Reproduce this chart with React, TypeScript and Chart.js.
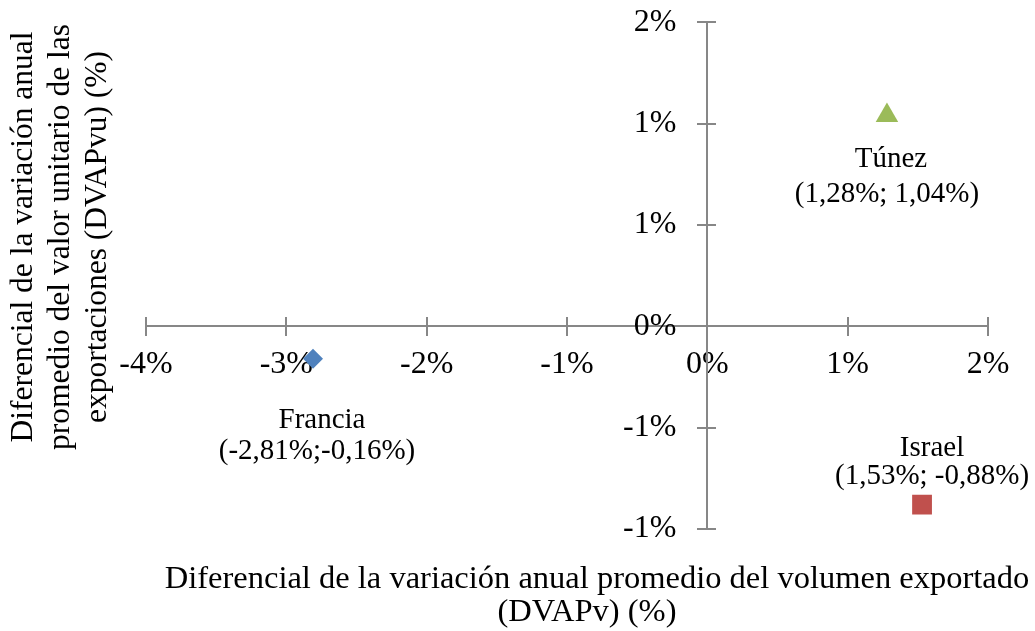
import React, { useEffect, useRef } from 'react';
import { Chart, registerables } from 'chart.js';

Chart.register(...registerables);

// ---- Data ----
const countries = ['Francia', 'Israel', 'Túnez'];
const dvapv = [-2.81, 1.53, 1.28]; // x: volumen exportado (%)
const dvapvu = [-0.16, -0.88, 1.04]; // y: valor unitario (%)
const pointLabels = ['(-2,81%;-0,16%)', '(1,53%; -0,88%)', '(1,28%; 1,04%)'];
const xTickLabels = ['-4%', '-3%', '-2%', '-1%', '0%', '1%', '2%'];
const yTickLabels = ['-1%', '-1%', '0%', '1%', '1%', '2%'];
const xTitleLines = [
  'Diferencial de la variación anual promedio del volumen exportado',
  '(DVAPv) (%)',
];
const yTitleLines = [
  'Diferencial de la variación anual',
  'promedio del valor unitario de las',
  'exportaciones (DVAPvu) (%)',
];

// ---- Styles ----
const FONT = "'Liberation Serif', 'Times New Roman', serif";
const AXIS = '#878787';
const colors = ['#4F81BD', '#C0504D', '#9BBB59'];
const pointStyles = ['rectRot', 'rect', 'triangle'];
const pointRadii = [10, 14, 13];
// [nameDx, nameDy, valueDx, valueDy] relative to the point (alphabetic baseline)
const labelOffsets = [
  [9, 69, 4, 100],
  [10, -49, 10, -21],
  [4, 52, 0, 87],
];

const crossTicks = {
  id: 'crossTicks',
  beforeDatasetsDraw(chart: any) {
    const { ctx } = chart;
    const x = chart.scales.x;
    const y = chart.scales.y;
    const x0 = Math.round(x.getPixelForValue(0));
    const y0 = Math.round(y.getPixelForValue(0));
    ctx.save();
    ctx.strokeStyle = AXIS;
    ctx.lineWidth = 2;
    ctx.beginPath();
    x.ticks.forEach((t: any) => {
      const px = Math.round(x.getPixelForValue(t.value));
      ctx.moveTo(px, y0 - 9);
      ctx.lineTo(px, y0);
    });
    y.ticks.forEach((t: any) => {
      const py = Math.round(y.getPixelForValue(t.value));
      ctx.moveTo(x0, py);
      ctx.lineTo(x0 + 9, py);
    });
    ctx.stroke();
    ctx.restore();
  },
};

const dataLabels = {
  id: 'dataLabels',
  afterDatasetsDraw(chart: any) {
    const { ctx } = chart;
    ctx.save();
    ctx.fillStyle = '#000';
    ctx.font = `29px ${FONT}`;
    ctx.textAlign = 'center';
    ctx.textBaseline = 'alphabetic';
    chart.data.datasets.forEach((_ds: any, i: number) => {
      const el = chart.getDatasetMeta(i).data[0];
      if (!el) return;
      const [ndx, ndy, vdx, vdy] = labelOffsets[i];
      ctx.fillText(countries[i], el.x + ndx, el.y + ndy);
      ctx.fillText(pointLabels[i], el.x + vdx, el.y + vdy);
    });
    ctx.restore();
  },
};

const axisTitles = {
  id: 'axisTitles',
  afterDraw(chart: any) {
    const { ctx } = chart;
    ctx.save();
    ctx.fillStyle = '#000';
    ctx.textAlign = 'center';
    ctx.textBaseline = 'alphabetic';
    ctx.font = `32.5px ${FONT}`;
    const xCenters = [597, 587];
    const xBaselines = [588, 621];
    xTitleLines.forEach((t, i) => ctx.fillText(t, xCenters[i], xBaselines[i]));
    ctx.font = `31.5px ${FONT}`;
    const yBaselines = [32, 69, 106];
    ctx.translate(0, 237);
    ctx.rotate(-Math.PI / 2);
    yTitleLines.forEach((t, i) => ctx.fillText(t, 0, yBaselines[i]));
    ctx.restore();
  },
};

export default function App() {
  const ref = useRef<HTMLCanvasElement>(null);
  useEffect(() => {
    if (!ref.current) return;
    const tickFont = { family: FONT, size: 32 };
    const chart = new Chart(ref.current, {
      type: 'scatter',
      data: {
        datasets: countries.map((c, i) => ({
          label: c,
          data: [{ x: dvapv[i], y: dvapvu[i] }],
          backgroundColor: colors[i],
          borderColor: colors[i],
          borderWidth: 0,
          pointStyle: pointStyles[i] as any,
          pointRadius: pointRadii[i],
          pointHoverRadius: pointRadii[i],
        })),
      },
      options: {
        responsive: false,
        animation: false,
        devicePixelRatio: 1,
        events: [],
        layout: { padding: { left: 146, right: 47, top: 20, bottom: 102 } },
        plugins: { legend: { display: false }, tooltip: { enabled: false } },
        scales: {
          x: {
            type: 'linear',
            min: -4,
            max: 2,
            position: { y: 0 } as any,
            ticks: {
              stepSize: 1,
              autoSkip: false,
              maxRotation: 0,
              padding: 10,
              color: '#000',
              font: tickFont,
              callback: (_v: any, i: number) => xTickLabels[i],
            },
            grid: { drawOnChartArea: false, color: AXIS, lineWidth: 2, tickLength: 9 },
            border: { color: AXIS, width: 2 },
          },
          y: {
            type: 'linear',
            min: -1,
            max: 1.5,
            position: { x: 0 } as any,
            ticks: { stepSize: 0.5, display: false },
            grid: { drawOnChartArea: false, color: AXIS, lineWidth: 2, tickLength: 9 },
            border: { color: AXIS, width: 2 },
          },
          yLab: {
            type: 'linear',
            axis: 'y',
            min: -1,
            max: 1.5,
            position: { x: -0.221 } as any,
            ticks: {
              stepSize: 0.5,
              autoSkip: false,
              color: '#000',
              font: tickFont,
              callback: (_v: any, i: number) => yTickLabels[i],
            },
            grid: { display: false },
            border: { display: false },
          } as any,
        },
      },
      plugins: [crossTicks, dataLabels, axisTitles],
    });
    return () => chart.destroy();
  }, []);
  return (
    <div style={{ position: 'absolute', left: 0, top: 0, width: 1035, height: 631, background: '#fff' }}>
      <canvas ref={ref} width={1035} height={631} style={{ display: 'block' }} />
    </div>
  );
}
